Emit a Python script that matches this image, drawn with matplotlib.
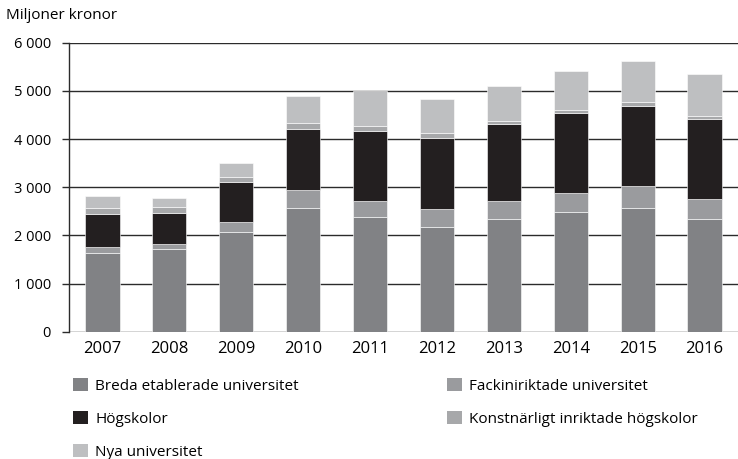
import matplotlib
matplotlib.use("Agg")
import matplotlib.pyplot as plt
import numpy as np
from matplotlib.patches import Patch
from matplotlib.ticker import FuncFormatter

plt.rcParams['font.family'] = ['Open Sans', 'DejaVu Sans']

years = ["2007", "2008", "2009", "2010", "2011", "2012", "2013", "2014", "2015", "2016"]

# miljoner kronor
breda = [1640, 1724, 2063, 2575, 2375, 2167, 2333, 2491, 2575, 2333]
fack = [118, 97, 208, 373, 338, 374, 380, 388, 443, 415]
hogskolor = [679, 650, 837, 1266, 1453, 1487, 1592, 1661, 1667, 1661]
konst = [138, 124, 110, 125, 111, 97, 69, 62, 77, 69]
nya = [242, 180, 277, 554, 720, 699, 720, 803, 851, 866]

series = [
    ("Breda etablerade universitet", breda, "#818285"),
    ("Fackiniriktade universitet", fack, "#9a9b9e"),
    ("Högskolor", hogskolor, "#231f20"),
    ("Konstnärligt inriktade högskolor", konst, "#a7a8aa"),
    ("Nya universitet", nya, "#bebfc1"),
]

fig = plt.figure(figsize=(7.38, 4.59), dpi=100)
ax = fig.add_axes([69 / 738, 1 - 331.7 / 459, 1 - 69 / 738, (331.7 - 42.7) / 459])

x = np.arange(len(years))
bottom = np.zeros(len(years))
handles = {}
for name, vals, col in series:
    ax.bar(x, vals, width=0.51, bottom=bottom, color=col, edgecolor="white",
           linewidth=0.4, zorder=3)
    bottom += np.array(vals)
    handles[name] = Patch(facecolor=col, edgecolor="none", label=name)

ax.set_xlim(-0.5, len(years) - 0.5)
ax.set_ylim(0, 6000)
ax.set_yticks(np.arange(0, 6001, 1000))
ax.yaxis.set_major_formatter(FuncFormatter(lambda v, p: f"{int(v):,}".replace(",", " ")))
ax.set_xticks(x)
ax.set_xticklabels(years)

ax.yaxis.grid(True, color="#2b2b2b", linewidth=1.0, zorder=1)
ax.set_axisbelow(True)
for s in ["top", "right", "bottom"]:
    ax.spines[s].set_visible(False)
ax.spines["left"].set_color("#2b2b2b")
ax.spines["left"].set_linewidth(1.0)
ax.tick_params(axis="y", length=5, width=1.0, color="#2b2b2b", labelsize=10.5, pad=8)
ax.tick_params(axis="x", length=0, labelsize=12, pad=7)

fig.text(6 / 738, 1 - 19 / 459, "Miljoner kronor", fontsize=11, ha="left", va="baseline")

leg_kw = dict(loc="upper left", frameon=False, fontsize=11, borderpad=0,
              borderaxespad=0, handlelength=0.95, handleheight=0.95,
              handletextpad=0.5, labelspacing=1.12)
leg1 = fig.legend(handles=[handles["Breda etablerade universitet"], handles["Högskolor"],
                           handles["Nya universitet"]],
                  bbox_to_anchor=(73 / 738, 1 - 378 / 459), **leg_kw)
leg2 = fig.legend(handles=[handles["Fackiniriktade universitet"],
                           handles["Konstnärligt inriktade högskolor"]],
                  bbox_to_anchor=(447 / 738, 1 - 378 / 459), **leg_kw)

fig.savefig("out.png", dpi=100)
